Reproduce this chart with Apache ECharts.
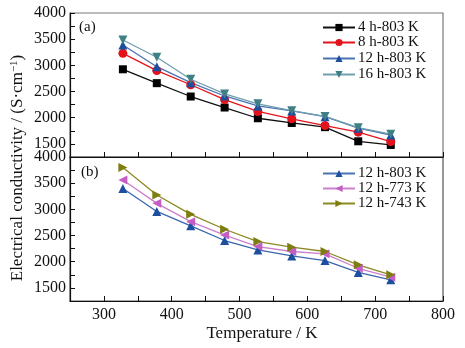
<!DOCTYPE html>
<html><head><meta charset="utf-8">
<script src="https://cdn.jsdelivr.net/npm/echarts@6/dist/echarts.min.js"></script>
<style>html,body{margin:0;padding:0;background:#fff}#c{width:465px;height:348px}</style>
</head><body><div id="c"></div>
<script>
const temps = [328, 378, 428, 478, 527, 577, 626, 675, 723];
const h4_803 = [2925, 2660, 2405, 2195, 1990, 1900, 1820, 1550, 1480];
const h8_803 = [3230, 2900, 2630, 2345, 2120, 1980, 1850, 1725, 1545];
const h12_803a = [3390, 2975, 2670, 2415, 2225, 2130, 2020, 1800, 1670];
const h16_803 = [3485, 3155, 2735, 2455, 2265, 2135, 2025, 1810, 1685];
const h12_803b = [3400, 2960, 2685, 2405, 2226, 2111, 2022, 1795, 1655];
const h12_773 = [3560, 3115, 2765, 2510, 2290, 2195, 2150, 1875, 1705];
const h12_743 = [3800, 3275, 2905, 2620, 2385, 2278, 2195, 1940, 1750];
const xTicks = [300, 400, 500, 600, 700, 800];
const yTicks = [1500, 2000, 2500, 3000, 3500, 4000];
const namesA = ['4 h-803 K', '8 h-803 K', '12 h-803 K', '16 h-803 K'];
const namesB = ['12 h-803 K', '12 h-773 K', '12 h-743 K'];

const F = 'Liberation Serif, Times New Roman, serif';
const pairs = v => temps.map((t, i) => [t, v[i]]);

function xAx(gi, labels) {
  return {
    type: 'value', gridIndex: gi, min: 250, max: 800, interval: 50,
    axisLine: { show: true, onZero: false, lineStyle: { color: '#111', width: 1.2 } },
    axisTick: { show: true, inside: true, length: 5, lineStyle: { color: '#111' } },
    splitLine: { show: false },
    axisLabel: {
      show: labels, color: '#111', fontFamily: F, fontSize: 16, margin: 6,
      formatter: v => xTicks.includes(v) ? String(v) : ''
    }
  };
}
function yAx(gi) {
  return {
    type: 'value', gridIndex: gi, min: 1250, max: 4000, interval: 250,
    axisLine: { show: true, onZero: false, lineStyle: { color: '#111', width: 1.2 } },
    axisTick: { show: true, inside: true, length: 5, lineStyle: { color: '#111' } },
    splitLine: { show: false },
    axisLabel: {
      color: '#111', fontFamily: F, fontSize: 16, margin: 4, showMinLabel: true, showMaxLabel: true,
      formatter: v => yTicks.includes(v) ? String(v) : ''
    }
  };
}
function ser(name, data, gi, color, lineColor, symbol, rot, size) {
  return {
    name, type: 'line', xAxisIndex: gi, yAxisIndex: gi, data: pairs(data),
    symbol, symbolRotate: rot, symbolSize: size, showSymbol: true,
    itemStyle: { color }, lineStyle: { color: lineColor, width: 1.3 }
  };
}
const legText = { fontFamily: F, fontSize: 15, color: '#111', padding: [0, 0, 0, -2] };
function leg(name, top) {
  return { data: [name], orient: 'vertical', left: 322, top, padding: 0, itemWidth: 32, itemHeight: 9,
    textStyle: legText, selectedMode: false };
}
const legTopsA = [20, 35, 51, 67];
const legTopsB = [166, 181, 196];
const chart = echarts.init(document.getElementById('c'), null, { renderer: 'canvas' });
chart.setOption({
  animation: false,
  backgroundColor: '#fff',
  grid: [
    { left: 70, right: 22, top: 13, height: 144, show: true, borderColor: '#777', borderWidth: 1.2 },
    { left: 70, right: 22, top: 157, height: 144, show: true, borderColor: '#555', borderWidth: 1.2 }
  ],
  xAxis: [xAx(0, false), xAx(1, true)],
  yAxis: [yAx(0), yAx(1)],
  legend: namesA.map((n, i) => leg(n, legTopsA[i])).concat(namesB.map((n, i) => leg(n, legTopsB[i]))),
  graphic: [
    { type: 'text', left: 79, top: 20, style: { text: '(a)', font: '15px ' + F, fill: '#111' } },
    { type: 'text', left: 81, top: 165, style: { text: '(b)', font: '15px ' + F, fill: '#111' } },
    { type: 'text', x: 262, y: 334, style: { text: 'Temperature / K', font: '17px ' + F, fill: '#111', align: 'center', verticalAlign: 'middle' } },
    { type: 'text', x: 18, y: 168, rotation: Math.PI / 2,
      style: { rich: { n: { font: '17px ' + F, fill: '#111' }, s: { font: '11px ' + F, fill: '#111', verticalAlign: 'top', padding: [0, 0, 7, 0] } },
        text: '{n|Electrical conductivity / (S·cm}{s|−1}{n|)}', align: 'center', verticalAlign: 'middle', fill: '#111' } }
  ],
  series: [
    ser(namesA[0], h4_803, 0, '#000', '#111', 'rect', 0, 8),
    ser(namesA[1], h8_803, 0, '#e3131b', '#e3131b', 'circle', 0, 9),
    ser(namesA[2], h12_803a, 0, '#1d4fa0', '#4a72b2', 'triangle', 0, 9),
    ser(namesA[3], h16_803, 0, '#3f7f86', '#6f9fae', 'triangle', 180, 9),
    ser(namesB[0], h12_803b, 1, '#1d4fa0', '#3a65ad', 'triangle', 0, 9),
    ser(namesB[1], h12_773, 1, '#c45ec4', '#cc80cc', 'triangle', 90, 9),
    ser(namesB[2], h12_743, 1, '#7d7d10', '#8a8a22', 'triangle', -90, 9)
  ]
});
</script></body></html>
